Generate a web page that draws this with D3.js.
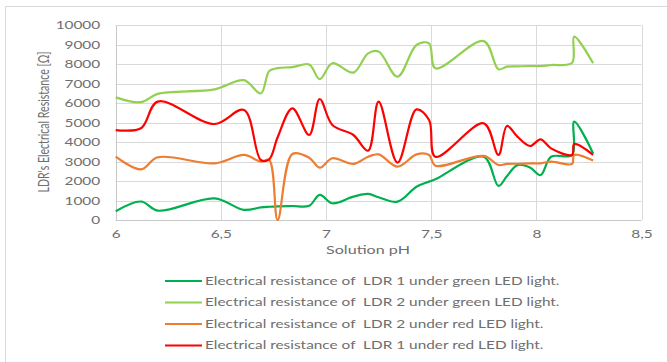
<!DOCTYPE html>
<html lang="en">
<head>
<meta charset="UTF-8">
<title>LDR resistance vs solution pH</title>
<script src="https://d3js.org/d3.v7.min.js"></script>
<style>
  body { margin: 0; background: #fff; }
  svg text { font-family: Lato, "Open Sans", sans-serif; fill: #6e6e6e; white-space: pre; }
</style>
</head>
<body>
<div id="chart"></div>
<script>
// pH values (shared by all four series)
var pH = [6.00, 6.12, 6.20, 6.47, 6.61, 6.69, 6.73, 6.77, 6.84, 6.92, 6.97, 7.03, 7.13, 7.20, 7.25,
          7.34, 7.43, 7.49, 7.52, 7.75, 7.82, 7.86, 7.91, 7.97, 8.02, 8.07, 8.17, 8.18, 8.27];

var ldr1Green = [450, 950, 480, 1110, 520, 650, 680, 700, 720, 730, 1290, 860, 1200, 1340, 1170,
                 940, 1710, 1970, 2090, 3250, 1750, 2250, 2820, 2700, 2310, 3250, 3340, 5050, 3420];
var ldr2Green = [6300, 6050, 6480, 6710, 7180, 6500, 7650, 7800, 7850, 7990, 7230, 8050, 7570, 8560, 8650,
                 7360, 8990, 9070, 7790, 9190, 7740, 7875, 7890, 7910, 7910, 7960, 8080, 9420, 8050];
var ldr2Red   = [3250, 2600, 3220, 2910, 3340, 3000, 3080, 0, 3390, 3200, 2690, 3170, 2880, 3250, 3370,
                 2740, 3370, 3340, 2790, 3290, 2825, 2880, 2890, 2910, 2910, 3000, 2880, 3340, 3050];
var ldr1Red   = [4620, 4710, 6080, 4930, 5650, 3080, 3120, 4250, 5735, 4365, 6215, 4880, 4365, 3560, 6080,
                 2945, 5680, 5135, 3250, 4965, 3340, 4830, 4280, 3800, 4140, 3680, 3340, 3900, 3340];

var seriesNames = [
  "Electrical resistance of  LDR 1 under green LED light.",
  "Electrical resistance of  LDR 2 under green LED light.",
  "Electrical resistance of  LDR 2 under red LED light.",
  "Electrical resistance of  LDR 1 under red LED light."
];
var seriesColors = ["#00b050", "#92d050", "#ed7d31", "#ff0000"];
var seriesValues = [ldr1Green, ldr2Green, ldr2Red, ldr1Red];

var xTicks = [6, 6.5, 7, 7.5, 8, 8.5];
var yTicks = [0, 1000, 2000, 3000, 4000, 5000, 6000, 7000, 8000, 9000, 10000];

var width = 667, height = 362;
var plot = { left: 115.7, right: 641.5, top: 25.3, bottom: 220 };

var svg = d3.select("#chart").append("svg")
  .attr("width", width).attr("height", height);

// outer chart border (only left/top visible in the frame)
svg.append("rect")
  .attr("x", 5.5).attr("y", 6.5)
  .attr("width", 720).attr("height", 420)
  .attr("fill", "#fff").attr("stroke", "#d9d9d9");

var x = d3.scaleLinear().domain([6, 8.5]).range([plot.left, plot.right]);
var y = d3.scaleLinear().domain([0, 10000]).range([plot.bottom, plot.top]);

// legend first, to measure the horizontal stretch of the text
var legend = svg.append("g");
var probe = legend.append("text").attr("font-size", 10.5).text(seriesNames[0]);
var SX = 355 / probe.node().getComputedTextLength();
probe.remove();

// gridlines
svg.append("g").selectAll("line").data(yTicks).enter().append("line")
  .attr("x1", plot.left).attr("x2", plot.right)
  .attr("y1", function (d) { return Math.round(y(d)) + 0.5; })
  .attr("y2", function (d) { return Math.round(y(d)) + 0.5; })
  .attr("stroke", function (d) { return d === 0 ? "#c9c9c9" : "#d9d9d9"; });
svg.append("g").selectAll("line").data(xTicks).enter().append("line")
  .attr("y1", plot.top).attr("y2", plot.bottom)
  .attr("x1", function (d) { return Math.round(x(d)) + 0.5; })
  .attr("x2", function (d) { return Math.round(x(d)) + 0.5; })
  .attr("stroke", function (d) { return d === 6 ? "#c9c9c9" : "#d9d9d9"; });

// axes (labels only)
var yAxis = svg.append("g")
  .attr("transform", "translate(" + plot.left + ",0)")
  .call(d3.axisLeft(y).tickValues(yTicks).tickSize(0).tickFormat(d3.format("d")));
yAxis.select(".domain").remove();
yAxis.selectAll("text")
  .attr("font-size", 10.5).attr("font-family", null).attr("fill", null)
  .attr("x", -15.5 / SX).attr("dy", "0.35em")
  .attr("transform", "scale(" + SX + ",1)");

var xAxis = svg.append("g")
  .attr("transform", "translate(0," + plot.bottom + ")")
  .call(d3.axisBottom(x).tickValues(xTicks).tickSize(0)
    .tickFormat(function (d) { return d3.format(".1~f")(d).replace(".", ","); }));
xAxis.select(".domain").remove();
xAxis.selectAll("text")
  .attr("font-size", 10.5).attr("font-family", null).attr("fill", null)
  .attr("y", 14).attr("dy", "0.35em")
  .attr("transform", "scale(" + SX + ",1)")
  .attr("x", 0);

// axis titles
svg.append("text")
  .attr("transform", "translate(368,250) scale(" + SX + ",1)")
  .attr("text-anchor", "middle").attr("dy", "0.35em")
  .attr("font-size", 11)
  .text("Solution pH");

svg.append("text")
  .attr("transform", "translate(43,122) scale(" + SX + ",1) rotate(-90)")
  .attr("text-anchor", "middle").attr("dy", "0.35em")
  .attr("font-size", 11)
  .attr("textLength", 141).attr("lengthAdjust", "spacingAndGlyphs")
  .text("LDR's Electrical Resistance [\u03a9]");

// series lines
var line = d3.line()
  .x(function (d) { return x(d[0]); })
  .y(function (d) { return y(d[1]); })
  .curve(d3.curveCatmullRom.alpha(0.5));

seriesValues.forEach(function (vals, i) {
  svg.append("path")
    .datum(pH.map(function (p, j) { return [p, vals[j]]; }))
    .attr("fill", "none")
    .attr("stroke", seriesColors[i])
    .attr("stroke-width", 2.2)
    .attr("stroke-linejoin", "round")
    .attr("d", line);
});

// legend rows
var rowY = [281, 302.5, 324, 345.5];
seriesNames.forEach(function (name, i) {
  legend.append("line")
    .attr("x1", 165).attr("x2", 202)
    .attr("y1", rowY[i]).attr("y2", rowY[i])
    .attr("stroke", seriesColors[i]).attr("stroke-width", 2.2);
  legend.append("text")
    .attr("transform", "translate(205," + rowY[i] + ") scale(" + SX + ",1)")
    .attr("dy", "0.35em")
    .attr("font-size", 10.5)
    .text(name);
});
</script>
</body>
</html>
